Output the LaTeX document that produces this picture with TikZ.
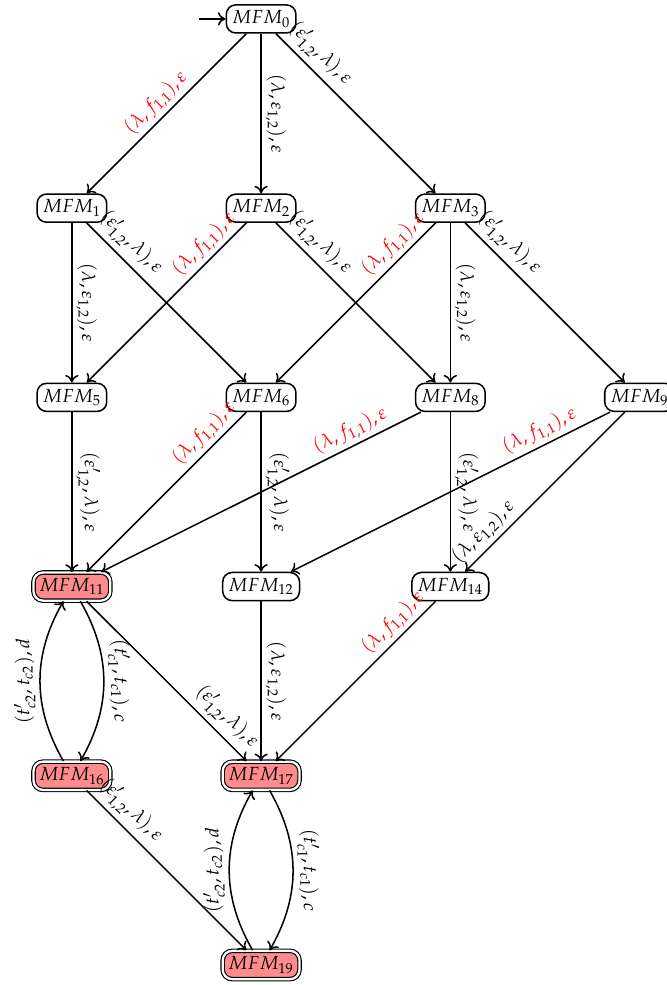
\documentclass[tikz,border=0pt]{standalone}
\usepackage[osf]{mathpazo}
\usetikzlibrary{arrows.meta, positioning}
% transition labels
\newcommand{\eplam}{$(\varepsilon'_{1,2},\lambda),\varepsilon$}
\newcommand{\lameps}{$(\lambda,\varepsilon_{1,2}),\varepsilon$}
\newcommand{\lamf}{$(\lambda,f_{1,1}),\varepsilon$}
\newcommand{\tcone}{$(t'_{c1},t_{c1}),c$}
\newcommand{\tctwo}{$(t'_{c2},t_{c2}),d$}

\begin{document}
\begin{tikzpicture}[>={To[length=4pt,width=7pt]}, thick,
    mfm/.style={draw, rounded corners=5pt, inner sep=3pt, minimum height=0.5cm},
    acc/.style={mfm, fill=red!45, double, double distance=1.2pt, semithick},
    lbl/.style={sloped, above, inner sep=2pt},
    flbl/.style={lbl, text=red}]
    \useasboundingbox (-1.33,0.35) rectangle (11.0,-17.87);
    % -- states
    \node[mfm] (m0)  at (3.5,0)     {$MFM_{0}$};
    \node[mfm] (m1)  at (0,-3.5)    {$MFM_{1}$};
    \node[mfm] (m2)  at (3.5,-3.5)  {$MFM_{2}$};
    \node[mfm] (m3)  at (7,-3.5)    {$MFM_{3}$};
    \node[mfm] (m5)  at (0,-7)      {$MFM_{5}$};
    \node[mfm] (m6)  at (3.5,-7)    {$MFM_{6}$};
    \node[mfm] (m8)  at (7,-7)      {$MFM_{8}$};
    \node[mfm] (m9)  at (10.5,-7)   {$MFM_{9}$};
    \node[acc] (m11) at (0,-10.5)   {$MFM_{11}$};
    \node[mfm] (m12) at (3.5,-10.5) {$MFM_{12}$};
    \node[mfm] (m14) at (7,-10.5)   {$MFM_{14}$};
    \node[acc] (m16) at (0,-14)     {$MFM_{16}$};
    \node[acc] (m17) at (3.5,-14)   {$MFM_{17}$};
    \node[acc] (m19) at (3.5,-17.5) {$MFM_{19}$};
    \coordinate[left=5mm of m0] (start);
    % -- transitions
    \draw[->] (start) -- (m0);
    \draw[->] (m0) -- node[flbl, pos=.5] (l1) {\lamf} (m1);
    \draw[->] (m0) -- node[lbl, pos=.5] (l2) {\lameps} (m2);
    \draw[->] (m0) -- node[lbl, pos=.2] (l3) {\eplam} (m3);
    \draw[->] (m1) -- node[lbl, pos=.5] (l4) {\lameps} (m5);
    \draw[->] (m1) -- node[lbl, pos=.2] (l5) {\eplam} (m6);
    \draw[->] (m2) -- node[flbl, pos=.2] (l6) {\lamf} (m5);
    \draw[->] (m2) -- node[lbl, pos=.2] (l7) {\eplam} (m8);
    \draw[->] (m3) -- node[flbl, pos=.2] (l8) {\lamf} (m6);
    \draw[->] (m3) -- node[lbl, pos=.5] (l9) {\lameps} (m8);
    \draw[->] (m3) -- node[lbl, pos=.2] (l10) {\eplam} (m9);
    \draw[->] (m5) -- node[lbl, pos=.5] (l11) {\eplam} (m11);
    \draw[->] (m6) -- node[flbl, pos=.2] (l12) {\lamf} (m11);
    \draw[->] (m6) -- node[lbl, pos=.5] (l13) {\eplam} (m12);
    \draw[->] (m8) -- node[flbl, pos=.2] (l14) {\lamf} (m11);
    \draw[->] (m8) -- node[lbl, pos=.5] (l15) {\eplam} (m14);
    \draw[->] (m9) -- node[flbl, pos=.2] (l16) {\lamf} (m12);
    \draw[->] (m9) -- node[lbl, pos=.82] (l17) {\lameps} (m14);
    \draw[->] (m11) to[bend left] node[lbl] (l18) {\tcone} (m16);
    \draw[->] (m16) to[bend left] node[lbl] (l19) {\tctwo} (m11);
    \draw[->] (m11) -- node[lbl, pos=.8] (l20) {\eplam} (m17);
    \draw[->] (m12) -- node[lbl, pos=.5] (l21) {\lameps} (m17);
    \draw[->] (m14) -- node[flbl, pos=.2] (l22) {\lamf} (m17);
    \draw[->] (m16) -- node[lbl, pos=.2] (l23) {\eplam} (m19);
    \draw[->] (m17) to[bend left] node[lbl] (l24) {\tcone} (m19);
    \draw[->] (m19) to[bend left] node[lbl] (l25) {\tctwo} (m17);
\end{tikzpicture}
\end{document}
